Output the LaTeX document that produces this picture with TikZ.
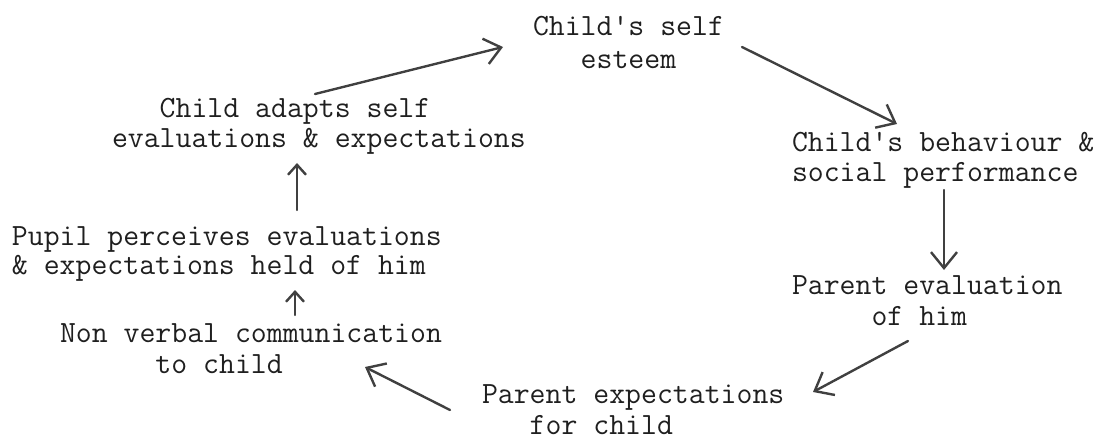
\documentclass[tikz,border=0pt]{standalone}
\usepackage{fontspec}
\usetikzlibrary{arrows.meta}
\tikzset{
  lbl/.style={inner sep=0pt, outer sep=0pt, anchor=base west, align=left,
    text=black!88, font=\ttfamily\fontsize{30.9pt}{31pt}\selectfont},
  arr/.style={draw=black!75, line width=2.4pt, line cap=round,
    -{Straight Barb[length=16pt,width=26pt,line width=2.4pt]}},
  sarr/.style={draw=black!75, line width=2.4pt, line cap=round,
    -{Straight Barb[length=10pt,width=18pt,line width=2.4pt]}}
}
\newcommand{\sk}[1]{\hphantom{#1}}
\begin{document}
\begin{tikzpicture}[x=1pt,y=-1pt]
\useasboundingbox (0,0) rectangle (1103,441);
% nodes (left edge, last baseline)
\node[lbl, font=\ttfamily\fontsize{30.9pt}{33pt}\selectfont] (esteem) at (533,69) {Child's self\\\sk{xxx}esteem};
\node[lbl] (behav) at (792,182) {Child's behaviour \&\\social performance};
\node[lbl] (peval) at (792,325) {Parent evaluation\\\sk{xxxxx}of him};
\node[lbl, font=\ttfamily\fontsize{30.9pt}{31pt}\selectfont] (pexp) at (482,434) {Parent expectations\\\sk{xxx}for child};
\node[lbl] (nonv) at (60,373) {Non verbal communication\\\sk{xxxxxx}to child};
\node[lbl, font=\ttfamily\fontsize{30.9pt}{29pt}\selectfont] (pupil) at (12,274) {Pupil perceives evaluations\\\& expectations held of him};
\node[lbl] (adapt) at (112,148) {\sk{xxx}Child adapts self\\evaluations \& expectations};
% connector end points
\coordinate (a1s) at (315,94);  \coordinate (a1e) at (503,47);
\coordinate (a2s) at (742,47);  \coordinate (a2e) at (897,124);
\coordinate (a3s) at (944,190); \coordinate (a3e) at (944,270);
\coordinate (a4s) at (908,341); \coordinate (a4e) at (813,392);
\coordinate (a5s) at (450,410); \coordinate (a5e) at (365,367);
\coordinate (a6s) at (295,315); \coordinate (a6e) at (295,290);
\coordinate (a7s) at (297,210); \coordinate (a7e) at (297,163);
% connectors
\draw[arr] (a1s) -- (a1e);
\draw[arr] (a2s) -- (a2e);
\draw[arr] (a3s) -- (a3e);
\draw[arr] (a4s) -- (a4e);
\draw[arr] (a5s) -- (a5e);
\draw[sarr] (a6s) -- (a6e);
\draw[sarr] (a7s) -- (a7e);
\end{tikzpicture}
\end{document}
